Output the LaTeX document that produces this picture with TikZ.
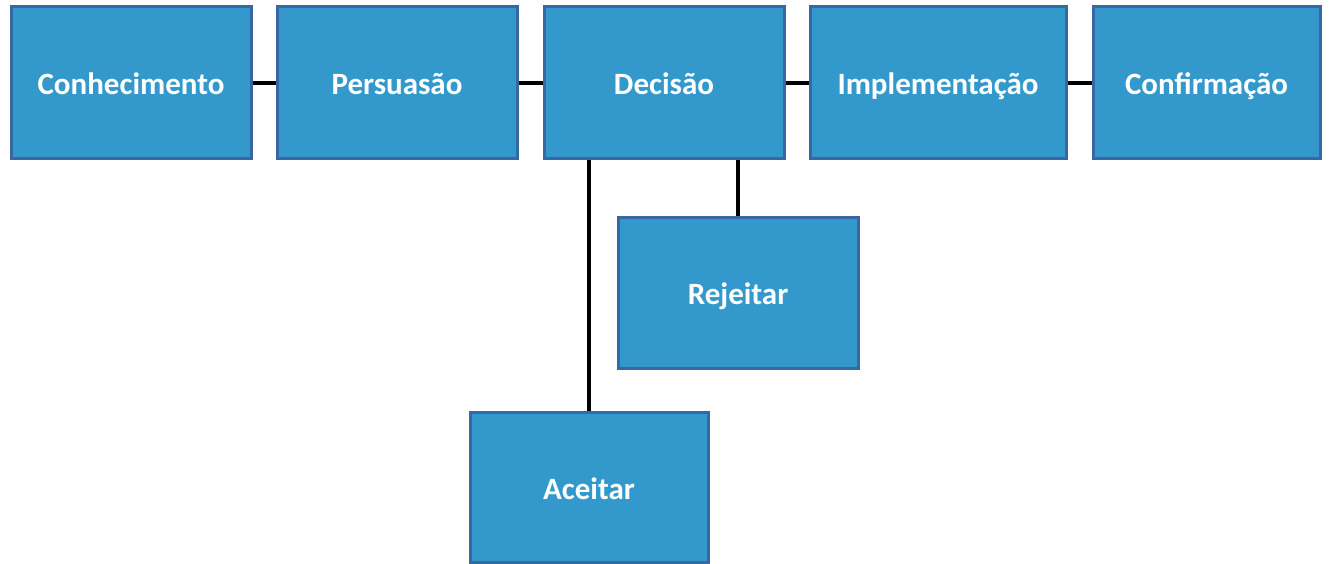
\documentclass[tikz,border=0pt]{standalone}
\usepackage{fontspec}
\setmainfont{Carlito}
\definecolor{boxfill}{RGB}{51,153,204}
\definecolor{boxedge}{RGB}{55,104,163}
\begin{document}
\begin{tikzpicture}[x=1pt,y=-1pt,
  box/.style={draw=boxedge,fill=boxfill,line width=3pt,minimum height=152pt,
    inner sep=0pt,text height=25pt,text depth=1pt,text=white,
    font=\fontsize{31}{36}\selectfont\bfseries},
  link/.style={line width=4pt,black}]
\useasboundingbox (0,0) rectangle (1329,564);
\node[box,minimum width=240pt] (con) at (131,83) {Conhecimento};
\node[box,minimum width=240pt] (per) at (397,83) {Persuasão};
\node[box,minimum width=240pt] (dec) at (664,83) {Decisão};
\node[box,minimum width=256pt] (imp) at (938,83) {Implementação};
\node[box,minimum width=227pt] (cnf) at (1206.5,83) {Confirmação};
\node[box,minimum width=240pt,minimum height=151pt] (rej) at (738,292.5) {Rejeitar};
\node[box,minimum width=238pt,minimum height=150pt] (acc) at (589,487) {Aceitar};
\draw[link] (con.east) -- (per.west);
\draw[link] (per.east) -- (dec.west);
\draw[link] (dec.east) -- (imp.west);
\draw[link] (imp.east) -- (cnf.west);
\draw[link] (dec.south -| acc.north) -- (acc.north);
\draw[link] (dec.south -| rej.north) -- (rej.north);
\end{tikzpicture}
\end{document}
